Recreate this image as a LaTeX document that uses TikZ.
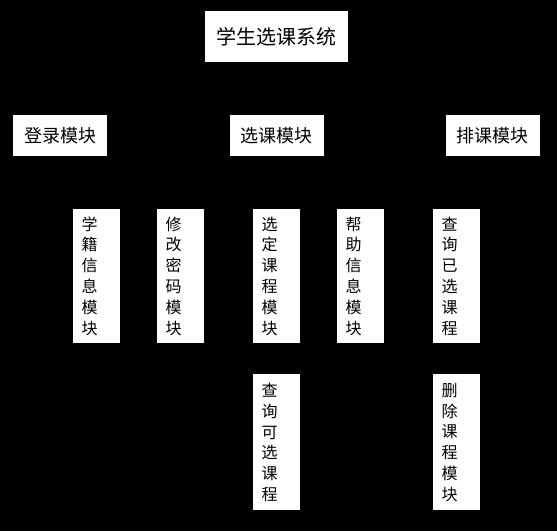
\documentclass[tikz,border=0pt]{standalone}
\usepackage{fontspec}
\setmainfont{Noto Sans CJK SC}
\usetikzlibrary{positioning}

\begin{document}
\begin{tikzpicture}[x=1pt,y=-1pt,
  hbox/.style={fill=white,inner sep=0pt,minimum width=94pt,minimum height=41pt,font=\fontsize{18}{20}\selectfont},
  vbox/.style={fill=white,inner sep=0pt,minimum width=47pt,minimum height=134pt,text width=30pt,align=left,font=\fontsize{16}{20.8}\selectfont}]
\fill[black] (0,0) rectangle (557,531);
\node[hbox,minimum width=143pt,minimum height=51pt,font=\fontsize{20}{24}\selectfont] (sys) at (276.5,36.5) {学生选课系统};
\node[hbox] (login) at (60,135.5) {登录模块};
\node[hbox] (pick) at (276.5,135.5) {选课模块};
\node[hbox] (plan) at (492.5,135.5) {排课模块};
\node[vbox] (stuinfo) at (96.5,276) {学\\籍\\信\\息\\模\\块};
\node[vbox] (passwd) at (180.5,276) {修\\改\\密\\码\\模\\块};
\node[vbox] (choose) at (276.5,276) {选\\定\\课\\程\\模\\块};
\node[vbox] (help) at (360.5,276) {帮\\助\\信\\息\\模\\块};
\node[vbox] (chosen) at (456.5,276) {查\\询\\已\\选\\课\\程};
\node[vbox,minimum height=136pt,below=31pt of choose] (avail) {查\\询\\可\\选\\课\\程};
\node[vbox,minimum height=136pt,below=31pt of chosen] (drop) {删\\除\\课\\程\\模\\块};
\end{tikzpicture}
\end{document}
